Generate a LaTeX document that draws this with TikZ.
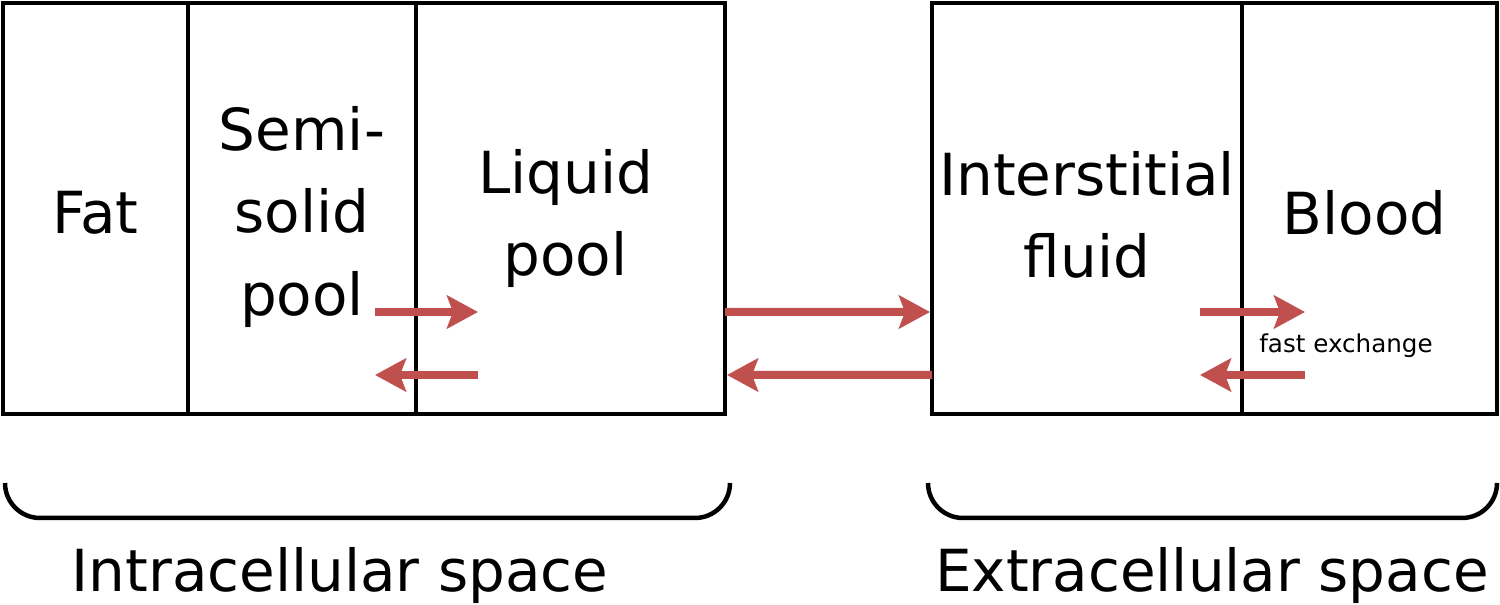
\documentclass[tikz,border=0pt]{standalone}
\usepackage{fontspec}
\setmainfont{DejaVu Sans}
\definecolor{flowred}{RGB}{192,80,77}
\usetikzlibrary{arrows.meta,positioning}

\begin{document}
\begin{tikzpicture}[
    box/.style={rectangle, draw=black, line width=0.09cm, inner sep=0pt, outer sep=0pt,
      minimum height=8.22cm},
    txt/.style={align=center, inner sep=0pt, font=\fontsize{33}{46.7}\selectfont},
    flow/.style={-{Stealth[length=0.62cm, width=0.66cm, inset=0.12cm]}, line width=0.16cm, flowred},
    brace/.style={line width=0.09cm, black},
    label/.style={font=\fontsize{33}{40}\selectfont, anchor=base}
  ]
    \useasboundingbox (0,0) rectangle (30,12.1);

    % compartments
    \node[box, minimum width=3.7cm] (fat) at (1.91,7.93) {};
    \node[box, minimum width=4.56cm, right=0pt of fat] (semi) {};
    \node[box, minimum width=6.18cm, right=0pt of semi] (liquid) {};
    \node[box, minimum width=6.2cm] (inter) at (21.74,7.93) {};
    \node[box, minimum width=5.1cm, right=0pt of inter] (blood) {};

    \node[txt, yshift=-0.08cm] (fattxt) at (fat) {Fat};
    \node[txt, yshift=-0.17cm] (semitxt) at (semi) {Semi-\\solid\\pool};
    \node[txt, xshift=-0.1cm, yshift=-0.2cm] (liquidtxt) at (liquid) {Liquid\\pool};
    \node[txt, yshift=-0.12cm] (intertxt) at (inter) {Interstitial\\fluid};
    \node[txt, xshift=-0.1cm, yshift=-0.08cm] (bloodtxt) at (blood) {Blood};

    % exchange arrows
    \draw[flow] ([shift={(-0.82,-2.07)}]semi.east) -- ([shift={(1.24,-2.07)}]liquid.west);
    \draw[flow] ([shift={(1.24,-3.33)}]liquid.west) -- ([shift={(-0.82,-3.33)}]semi.east);
    \draw[flow] ([yshift=-2.07cm]liquid.east) -- ([shift={(-0.04,-2.07)}]inter.west);
    \draw[flow] ([yshift=-3.33cm]inter.west) -- ([shift={(0.04,-3.33)}]liquid.east);
    \draw[flow] ([shift={(-0.84,-2.07)}]blood.west) -- ([shift={(1.26,-2.07)}]blood.west);
    \draw[flow] ([shift={(1.26,-3.33)}]blood.west) -- ([shift={(-0.84,-3.33)}]blood.west);
    \node[font=\fontsize{14}{16}\selectfont] (fastlbl) at (26.92,5.18) {fast exchange};

    % braces
    \draw[brace] (0.1,2.44) arc[start angle=180, end angle=270, radius=0.7]
      -- (13.9,1.74) arc[start angle=270, end angle=360, radius=0.7];
    \draw[brace] (18.56,2.44) arc[start angle=180, end angle=270, radius=0.7]
      -- (29.24,1.74) arc[start angle=270, end angle=360, radius=0.7];

    \node[label] (intra) at (6.8,0.26) {Intracellular space};
    \node[label] (extra) at (24.24,0.26) {Extracellular space};
\end{tikzpicture}
\end{document}
